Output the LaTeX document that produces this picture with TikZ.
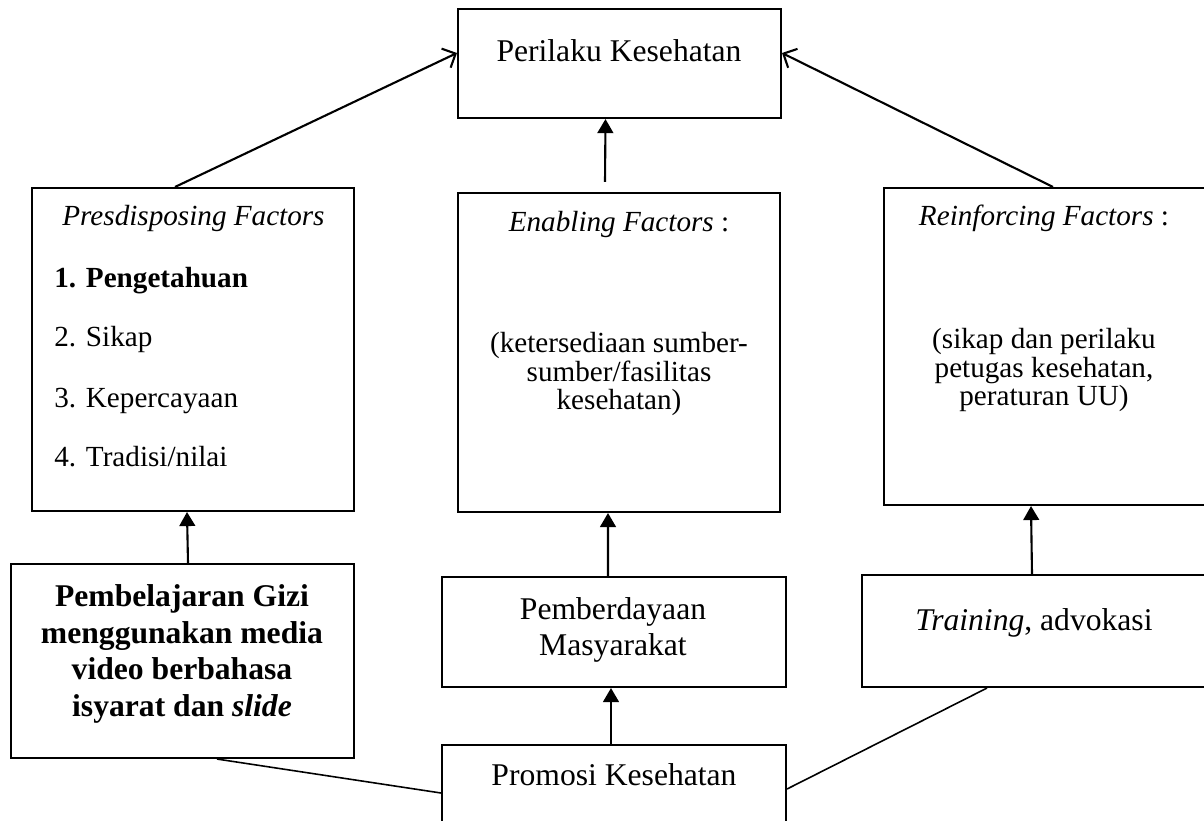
\documentclass[tikz,border=0pt]{standalone}
\usepackage{fontspec}
\setmainfont{Liberation Serif}
\usetikzlibrary{arrows.meta}
\tikzstyle{box}=[draw, rectangle, line width=1.2pt, inner sep=0pt]
\tikzstyle{up}=[line width=1.2pt, -{Triangle[length=8pt,width=9pt]}]
\tikzstyle{toward}=[line width=1.2pt, -{Straight Barb[length=6pt,width=12pt]}]
\tikzstyle{link}=[line width=0.9pt]
\newcommand{\boxnode}{\node[box]}
\newcommand{\bigtxt}{\fontsize{18}{20.6}\selectfont}
\newcommand{\factxt}{\fontsize{16.6}{16.4}\selectfont}

\begin{document}
\begin{tikzpicture}[x=0.02cm, y=-0.02cm]
            \useasboundingbox (0,0) rectangle (1204,821);
            \clip (0,0) rectangle (1204,821);
            % boxes
            \boxnode (perilaku) at (619.5,63.5) [minimum width=6.46cm, minimum height=2.18cm]{};
            \boxnode (presdis) at (193,349.5) [minimum width=6.44cm, minimum height=6.46cm]{};
            \boxnode (enab) at (619,352.5) [minimum width=6.44cm, minimum height=6.38cm]{};
            \boxnode (reinf) at (1049.5,346.5) [minimum width=6.62cm, minimum height=6.34cm]{};
            \boxnode (pembel) at (182.5,661) [minimum width=6.86cm, minimum height=3.88cm]{};
            \boxnode (pember) at (614,632) [minimum width=6.88cm, minimum height=2.2cm]{};
            \boxnode (train) at (1038.5,631) [minimum width=7.06cm, minimum height=2.24cm]{};
            \boxnode (promosi) at (614,805) [minimum width=6.88cm, minimum height=2.4cm]{};
            % texts
            \node[anchor=base, font=\bigtxt] (perilakutxt) at (619,62) {Perilaku Kesehatan};
            \node[anchor=base, font=\factxt] (presdistxt) at (193.5,225) {\textit{Presdisposing Factors}};
            \node[anchor=base west, inner sep=0pt, font=\factxt] (item1) at (54,287) {\textbf{1. Pengetahuan}};
            \node[anchor=base west, inner sep=0pt, font=\factxt] (item2) at (54,346) {2. Sikap};
            \node[anchor=base west, inner sep=0pt, font=\factxt] (item3) at (54,407) {3. Kepercayaan};
            \node[anchor=base west, inner sep=0pt, font=\factxt] (item4) at (54,466) {4. Tradisi/nilai};
            \node[anchor=base, font=\factxt] (enabtxt) at (619,232) {\textit{Enabling Factors} :};
            \node[align=center, font=\factxt] (enabbody) at (619,374) {(ketersediaan sumber-\\sumber/fasilitas\\kesehatan)};
            \node[align=center, font=\factxt] (reinfbody) at (1044,370) {(sikap dan perilaku\\petugas kesehatan,\\peraturan UU)};
            \node[anchor=base, font=\factxt] (reinftxt) at (1044,225) {\textit{Reinforcing Factors} :};
            \node[align=center, font=\fontsize{18}{20.9}\selectfont\bfseries] (pembeltxt) at (182,654) {Pembelajaran Gizi\\menggunakan media\\video berbahasa\\isyarat dan \textit{slide}};
            \node[align=center, font=\fontsize{18}{20.5}\selectfont] (pembertxt) at (613,630) {Pemberdayaan\\Masyarakat};
            \node[anchor=base, font=\bigtxt] (traintxt) at (1034,630) {\textit{Training}, advokasi};
            \node[anchor=base, font=\bigtxt] (promositxt) at (614,785) {Promosi Kesehatan};
            % connectors
            \draw[toward] ([xshift=-0.36cm]presdis.north) -- ([yshift=0.21cm]perilaku.west);
            \draw[toward] ([xshift=0.07cm]reinf.north) -- ([yshift=0.21cm]perilaku.east);
            \draw[up] ([xshift=-0.28cm,yshift=0.2cm]enab.north) -- ([xshift=-0.28cm]perilaku.south);
            \draw[up] ([xshift=0.11cm]pembel.north) -- ([xshift=-0.12cm]presdis.south);
            \draw[up] ([xshift=-0.12cm]pember.north) -- ([xshift=-0.22cm]enab.south);
            \draw[up] ([xshift=-0.13cm]train.north) -- ([xshift=-0.37cm]reinf.south);
            \draw[up] ([xshift=-0.06cm]promosi.north) -- ([xshift=-0.06cm]pember.south);
            \draw[link] ([xshift=0.69cm]pembel.south) -- ([yshift=0.24cm]promosi.west);
            \draw[link] ([yshift=0.32cm]promosi.east) -- ([xshift=-1.03cm]train.south);
        \end{tikzpicture}
\end{document}
